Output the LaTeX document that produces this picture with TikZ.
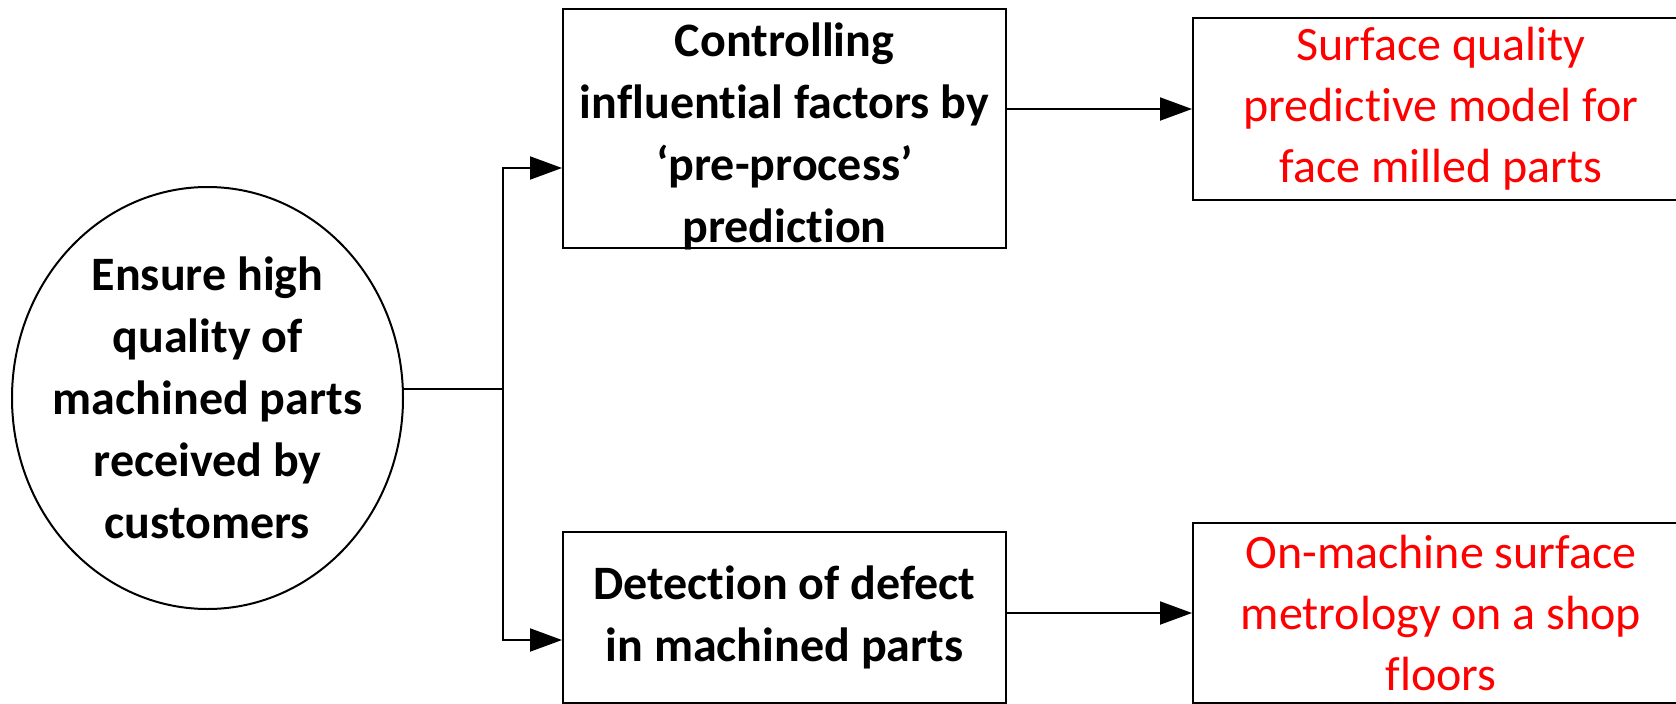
\documentclass[tikz,border=0pt]{standalone}
\usepackage{fontspec}
\setmainfont[Ligatures=NoCommon]{Carlito}
\usetikzlibrary{shapes.geometric,arrows.meta}
\definecolor{boxred}{RGB}{255,0,0}
\tikzset{
  txt/.style={font=\fontsize{48}{61}\selectfont, align=center, inner sep=0pt},
  boldtxt/.style={txt, font=\fontsize{48}{62}\selectfont\bfseries},
  goalnode/.style={boldtxt, ellipse, draw, line width=2pt,
    inner xsep=-20pt, inner ysep=-5pt, minimum width=391pt, minimum height=422pt},
  stepbox/.style={boldtxt, rectangle, draw, line width=2pt},
  outbox/.style={txt, rectangle, draw, line width=2pt, text=boxred},
  conn/.style={line width=2pt},
  arr/.style={conn, -{Triangle[length=32pt,width=23pt]}}
}
\begin{document}
\begin{tikzpicture}[x=1pt,y=-1pt]
\useasboundingbox (0,0) rectangle (1676,704);
\fill[white] (0,0) rectangle (1676,704);
\clip (0,0) rectangle (1676,704);

\node[goalnode] (goal) at (207.5,398) {Ensure high\\quality of\\machined parts\\received by\\customers};

\node[stepbox, minimum width=443pt, minimum height=239pt] (ctrl) at (784.5,128.5) {};
\node[boldtxt] (ctrltext) at ([yshift=-8pt]ctrl.center)
  {Controlling\\influential factors by\\‘pre-process’\\prediction};
\node[stepbox, minimum width=443pt, minimum height=171pt] (det) at (784.5,617.5)
  {Detection of defect\\in machined parts};

\node[outbox, minimum width=496pt, minimum height=182pt] (sq) at (1441,109)
  {Surface quality\\predictive model for\\face milled parts};
\node[outbox, minimum width=496pt, minimum height=180pt] (om) at (1441,613)
  {On-machine surface\\metrology on a shop\\floors};

\coordinate (br) at (502.5,389);
\draw[conn] (goal.east |- br) -- (br);
\draw[arr] (br) |- ([yshift=-39.5pt]ctrl.west);
\draw[arr] (br) |- ([yshift=-22.5pt]det.west);
\draw[arr] (ctrl.east |- sq.west) -- (sq.west);
\draw[arr] (det.east |- om.west) -- (om.west);
\end{tikzpicture}
\end{document}
